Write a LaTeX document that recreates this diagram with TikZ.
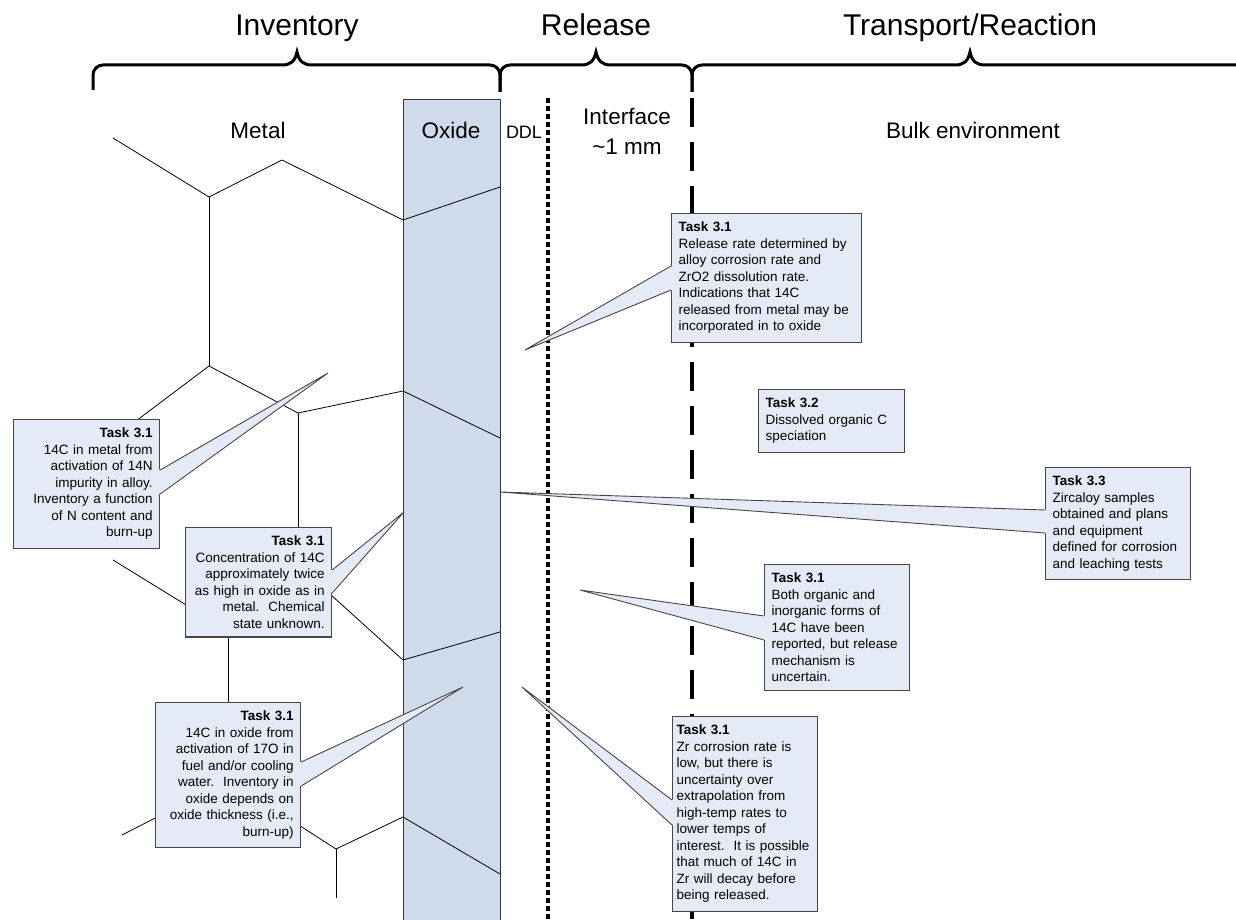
\documentclass[tikz,border=0pt]{standalone}
\usepackage{fontspec}
\setmainfont{Liberation Sans}
\definecolor{taskfill}{RGB}{228,235,247}
\definecolor{oxidefill}{RGB}{207,218,235}
\definecolor{taskline}{RGB}{70,70,70}
\hyphenpenalty=10000
\exhyphenpenalty=10000

\tikzset{
  grain/.style={line width=0.8pt, black},
  bracket/.style={line width=3pt},
  task/.style={draw=taskline, fill=taskfill, line width=1.2pt, inner xsep=7pt, inner ysep=8.5pt,
    font=\fontsize{13.5}{16.5}\selectfont, anchor=north west},
  taskl/.style={task, align=left},
  taskr/.style={task, align=right},
  tailfill/.style={fill=taskfill},
  tailline/.style={draw=taskline, line width=0.9pt},
  title/.style={font=\fontsize{30}{36}\selectfont, anchor=base},
  zone/.style={font=\fontsize{22.5}{28}\selectfont, anchor=base},
}

\begin{document}
\begin{tikzpicture}[x=1pt,y=-1pt]
  \useasboundingbox (0,0) rectangle (1236,920);

  % oxide layer
  \draw[draw=black!80, fill=oxidefill, line width=1pt] (403,100) rectangle (500,925);
  \draw[grain] (403,220) -- (500,187);
  \draw[grain] (403,391) -- (500,438);
  \draw[grain] (403,660) -- (500,632);
  \draw[grain] (403,817) -- (500,874);

  % grains in metal
  \draw[grain] (113,138) -- (209,197) -- (282,160) -- (403,220);
  \draw[grain] (209,197) -- (209,366);
  \draw[grain] (120,433) -- (209,366) -- (298,413) -- (403,391);
  \draw[grain] (298,413) -- (298,540);
  \draw[grain] (113,560) -- (230,632);
  \draw[grain] (320,585) -- (403,660);
  \draw[grain] (228,620) -- (228,720);
  \draw[grain] (122,835) -- (200,795);
  \draw[grain] (280,813) -- (336,849) -- (403,817);
  \draw[grain] (336,849) -- (336,898);

  % boundaries
  \draw[line width=4pt, dash pattern=on 5pt off 3pt] (548,98) -- (548,925);
  \draw[line width=3.5pt, dash pattern=on 29pt off 15pt] (692,98) -- (692,925);

  % braces
  \draw[bracket] (93,90) -- (93,75) arc[start angle=180, end angle=270, radius=10] -- (282,65)
    .. controls (291,65) and (295,61) .. (297,52) .. controls (299,61) and (303,65) .. (312,65)
    -- (490,65) arc[start angle=270, end angle=360, radius=10] -- (500,92);
  \draw[bracket] (500,92) -- (500,75) arc[start angle=180, end angle=270, radius=10] -- (581,65)
    .. controls (590,65) and (594,61) .. (596,52) .. controls (598,61) and (602,65) .. (611,65)
    -- (682,65) arc[start angle=270, end angle=360, radius=10] -- (692,92);
  \draw[bracket] (692,92) -- (692,75) arc[start angle=180, end angle=270, radius=10] -- (955,65)
    .. controls (964,65) and (968,61) .. (970,52) .. controls (972,61) and (976,65) .. (985,65)
    -- (1240,65);

  \node[title] (inv) at (297,36) {Inventory};
  \node[title] (rel) at (596,36) {Release};
  \node[title] (tra) at (970,36) {Transport/Reaction};

  \node[zone] (metal) at (258,139) {Metal};
  \node[zone] (oxide) at (451,139) {Oxide};
  \node[font=\fontsize{18}{20}\selectfont, anchor=base] (ddl) at (524,139) {DDL};
  \node[zone] (iface) at (627,125) {Interface};
  \node[zone] (width) at (627,155) {\textasciitilde1 mm};
  \node[zone] (bulk) at (973,139) {Bulk environment};

  % task boxes
  \node[taskr, text width=132pt] (b1) at (13,419) {\textbf{Task 3.1}\\14C in metal from\\activation of 14N\\impurity in alloy.\\Inventory a function\\of N content and\\burn-up};
  \node[taskr, text width=132pt] (b2) at (185,527) {\textbf{Task 3.1}\\Concentration of 14C\\approximately twice\\as high in oxide as in\\metal.\ \ Chemical\\state unknown.};
  \node[taskr, text width=131pt] (b3) at (155,702) {\textbf{Task 3.1}\\14C in oxide from\\activation of 17O in\\fuel and/or cooling\\water.\ \ Inventory in\\oxide depends on\\oxide thickness (i.e.,\\burn-up)};
  \node[taskl, text width=176pt] (r1) at (671,213) {\textbf{Task 3.1}\\Release rate determined by\\alloy corrosion rate and\\ZrO2 dissolution rate.\\Indications that 14C\\released from metal may be\\incorporated in to oxide};
  \node[taskl, text width=132pt] (b32) at (758,389) {\textbf{Task 3.2}\\Dissolved organic C\\speciation};
  \node[taskl, text width=131pt] (b33) at (1045,467) {\textbf{Task 3.3}\\Zircaloy samples\\obtained and plans\\and equipment\\defined for corrosion\\and leaching tests};
  \node[taskl, text width=131pt] (bor) at (764,564) {\textbf{Task 3.1}\\Both organic and\\inorganic forms of\\14C have been\\reported, but release\\mechanism is\\uncertain.};
  \node[taskl, text width=137pt, inner xsep=4pt] (bzr) at (672,716) {\textbf{Task 3.1}\\Zr corrosion rate is\\low, but there is\\uncertainty over\\extrapolation from\\high-temp rates to\\lower temps of\\interest.\ \ It is possible\\that much of 14C in\\Zr will decay before\\being released.};

  % callout tips
  \coordinate (p1) at (328,373);
  \coordinate (p2) at (404,512);
  \coordinate (p3) at (463,687);
  \coordinate (pr) at (525,350);
  \coordinate (p33) at (500,492);
  \coordinate (por) at (580,590);
  \coordinate (pzr) at (522,687);

  \fill[tailfill] ([xshift=-1pt,yshift=-51pt]b1.north east) -- (p1) -- ([xshift=-1pt,yshift=-75pt]b1.north east) -- cycle;
  \draw[tailline] ([yshift=-51pt]b1.north east) -- (p1) -- ([yshift=-75pt]b1.north east);

  \fill[tailfill] ([xshift=-1pt,yshift=-43pt]b2.north east) -- (p2) -- ([xshift=-1pt,yshift=-66pt]b2.north east) -- cycle;
  \draw[tailline] ([yshift=-43pt]b2.north east) -- (p2) -- ([yshift=-66pt]b2.north east);

  \fill[tailfill] ([xshift=-1pt,yshift=-60pt]b3.north east) -- (p3) -- ([xshift=-1pt,yshift=-84pt]b3.north east) -- cycle;
  \draw[tailline] ([yshift=-60pt]b3.north east) -- (p3) -- ([yshift=-84pt]b3.north east);

  \fill[tailfill] ([xshift=1pt,yshift=-53pt]r1.north west) -- (pr) -- ([xshift=1pt,yshift=-77pt]r1.north west) -- cycle;
  \draw[tailline] ([yshift=-53pt]r1.north west) -- (pr) -- ([yshift=-77pt]r1.north west);

  \fill[tailfill] ([xshift=1pt,yshift=-43pt]b33.north west) -- (p33) -- ([xshift=1pt,yshift=-66pt]b33.north west) -- cycle;
  \draw[tailline] ([yshift=-43pt]b33.north west) -- (p33) -- ([yshift=-66pt]b33.north west);

  \fill[tailfill] ([xshift=1pt,yshift=-52pt]bor.north west) -- (por) -- ([xshift=1pt,yshift=-76pt]bor.north west) -- cycle;
  \draw[tailline] ([yshift=-52pt]bor.north west) -- (por) -- ([yshift=-76pt]bor.north west);

  \fill[tailfill] ([xshift=1pt,yshift=-84pt]bzr.north west) -- (pzr) -- ([xshift=1pt,yshift=-109pt]bzr.north west) -- cycle;
  \draw[tailline] ([yshift=-84pt]bzr.north west) -- (pzr) -- ([yshift=-109pt]bzr.north west);

\end{tikzpicture}
\end{document}
